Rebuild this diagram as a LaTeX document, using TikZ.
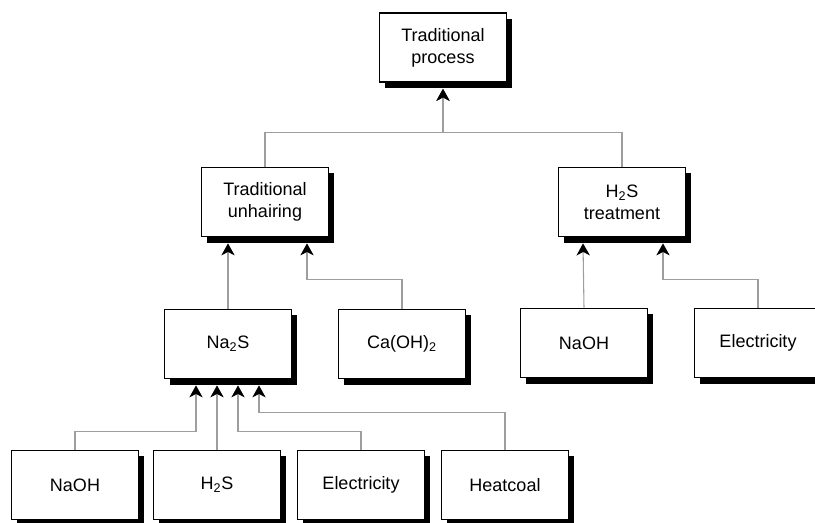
\documentclass[tikz,border=0pt]{standalone}
\usepackage{fontspec}
\setmainfont{Liberation Sans}
\usetikzlibrary{shadows,calc,arrows.meta}
\tikzset{
  box/.style={draw=black, line width=1.1pt, fill=white, minimum width=95.25pt, minimum height=52pt,
    align=center, inner sep=2pt, font=\fontsize{13.5pt}{16.3pt}\selectfont,
    drop shadow={shadow xshift=3.9pt, shadow yshift=-4.5pt, opacity=1, fill=black}},
  conn/.style={draw=black!38, line width=0.8pt, -{Stealth[length=9pt, width=10pt, inset=2.6pt, color=black]}}
}
\begin{document}
\begin{tikzpicture}[x=0.75pt, y=-0.75pt]
\useasboundingbox (0,0) rectangle (815,523);
% nodes
\node[box] (top) at (443,47.5) {Traditional\\process};
\node[box] (unhair) at (265,202) {Traditional\\unhairing};
\node[box] (h2st) at (622,202) {H\textsubscript{2}S\\treatment};
\node[box] (na2s) at (228,344) {Na\textsubscript{2}S};
\node[box] (caoh) at (402,344) {Ca(OH)\textsubscript{2}};
\node[box] (naohb) at (584,343) {NaOH};
\node[box] (elecb) at (758,343) {Electricity};
\node[box] (naoh) at (75,485) {NaOH};
\node[box] (h2s) at (217,485) {H\textsubscript{2}S};
\node[box] (elec) at (361,485) {Electricity};
\node[box] (heat) at (505,485) {Heatcoal};
% connectors
\draw[conn] (unhair.north) -- ++(0,-34) -| ($(top.south)+(0,6)$);
\draw[conn] (h2st.north) -- ++(0,-34) -| ($(top.south)+(0,6)$);
\draw[conn] (na2s.north) -- ($(unhair.south)+(-37,6)$);
\draw[conn] (caoh.north) -- ++(0,-29) -| ($(unhair.south)+(42,6)$);
\draw[conn] (naohb.north) -- ($(h2st.south)+(-39,6)$);
\draw[conn] (elecb.north) -- ++(0,-28) -| ($(h2st.south)+(41,6)$);
\draw[conn] (naoh.north) -- ++(0,-18) -| ($(na2s.south)+(-32,6)$);
\draw[conn] (h2s.north) -- ($(na2s.south)+(-11,6)$);
\draw[conn] (elec.north) -- ++(0,-18) -| ($(na2s.south)+(10,6)$);
\draw[conn] (heat.north) -- ++(0,-37) -| ($(na2s.south)+(31,6)$);
\end{tikzpicture}
\end{document}
